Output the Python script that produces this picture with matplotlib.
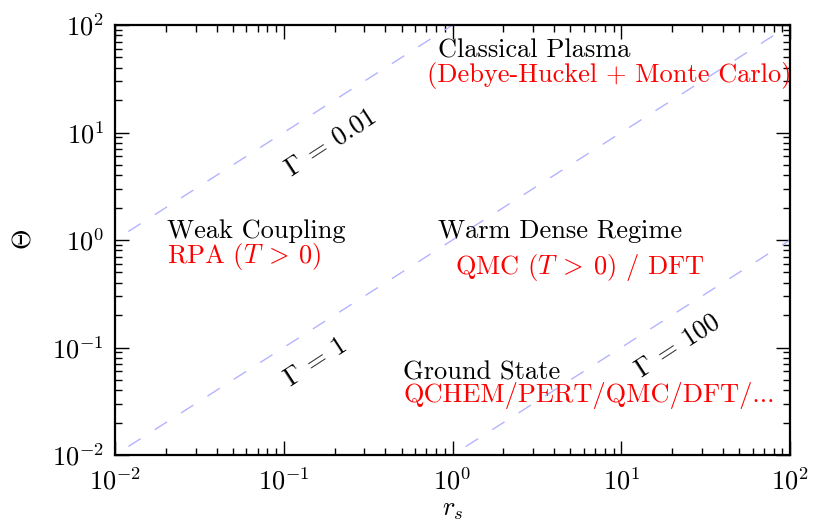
import matplotlib
matplotlib.use('Agg')
import matplotlib.pyplot as plt
from matplotlib.ticker import FuncFormatter, LogLocator
import numpy as np

plt.rcParams.update({
    'font.family': 'serif',
    'font.serif': ['cmr10'],
    'mathtext.fontset': 'cm',
    'axes.unicode_minus': False,
    'axes.formatter.use_mathtext': True,
    'font.size': 19,
})

# coupling lines, endpoints (r_s, Theta)
gammas = [0.01, 1, 100]
gamma_labels = [r'$\Gamma\:=\:0.01$', r'$\Gamma\:=\:1$', r'$\Gamma\:=\:100$']
rs_ends = [[0.012, 1.0], [0.012, 100.0], [1.2, 100.0]]
theta_ends = [[1.2, 100.0], [0.012, 100.0], [0.012, 1.0]]
label_rs = [0.188, 0.155, 21.7]
label_theta = [8.0, 0.073, 0.103]

region_titles = ['Classical Plasma', 'Weak Coupling', 'Warm Dense Regime', 'Ground State']
region_methods = ['(Debye-Huckel + Monte Carlo)', r'RPA ($T\:>\:0$)',
                  r'QMC ($T\:>\:0$) / DFT', 'QCHEM/PERT/QMC/DFT/...']

LINE_COLOR = '#b3b3ff'


def px_to_axes(px, py):
    return (px - 115) / 675.0, (455 - py) / 430.0


def main():
    fig = plt.figure(figsize=(8.13, 5.27), dpi=100)
    ax = fig.add_axes([115 / 813, 1 - 455 / 527, 675 / 813, 430 / 527])

    for rs, th in zip(rs_ends, theta_ends):
        ax.plot(rs, th, color=LINE_COLOR, lw=1.0, dashes=(10.5, 12))

    for lab, x, y in zip(gamma_labels, label_rs, label_theta):
        ax.text(x, y, lab, rotation=33, ha='center', va='center',
                rotation_mode='anchor', fontsize=19)

    ax.set_xscale('log')
    ax.set_yscale('log')
    ax.set_xlim(1e-2, 1e2)
    ax.set_ylim(1e-2, 1e2)

    # region annotations (pixel positions of the reference)
    title_px = [(438, 57), (167, 238), (438, 238), (403, 379)]
    method_px = [(427, 82), (167, 263), (455, 274), (403, 402)]
    for t, (px, py) in zip(region_titles, title_px):
        ax.text(*px_to_axes(px, py), t, transform=ax.transAxes,
                ha='left', va='baseline', color='k', fontsize=19)
    for t, (px, py) in zip(region_methods, method_px):
        ax.text(*px_to_axes(px, py), t, transform=ax.transAxes,
                ha='left', va='baseline', color='red', fontsize=19)

    fmt = FuncFormatter(lambda v, p: r'$10^{%d}$' % int(round(np.log10(v))))
    for axis in (ax.xaxis, ax.yaxis):
        axis.set_major_locator(LogLocator(base=10, numticks=10))
        axis.set_minor_locator(LogLocator(base=10, subs=np.arange(2, 10), numticks=20))
        axis.set_major_formatter(fmt)
        axis.set_minor_formatter(FuncFormatter(lambda v, p: ''))

    ax.tick_params(which='both', direction='in', top=True, right=True, labelsize=19)
    ax.tick_params(which='major', length=10, width=1.0)
    ax.tick_params(which='minor', length=5, width=1.0)
    ax.tick_params(axis='x', which='major', pad=9)
    ax.tick_params(axis='y', which='major', pad=8)
    for s in ax.spines.values():
        s.set_linewidth(1.6)

    ax.set_xlabel(r'$r_s$', fontsize=19, labelpad=3)
    ax.set_ylabel(r'$\Theta$', fontsize=19, labelpad=12)

    fig.savefig('out.png', dpi=100)


if __name__ == '__main__':
    main()
